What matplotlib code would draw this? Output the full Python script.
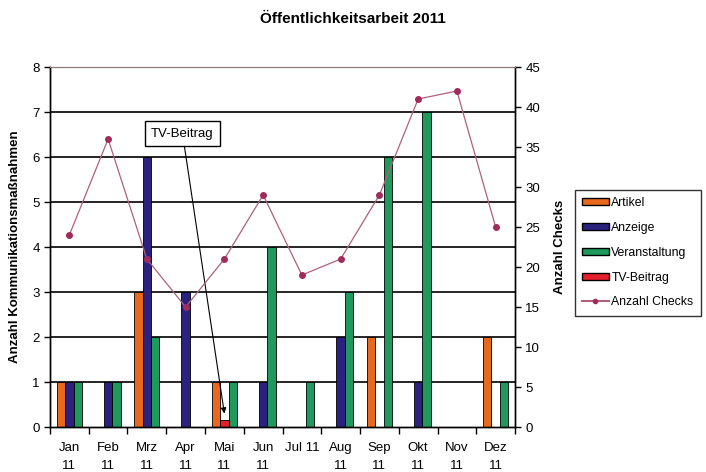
import numpy as np
import matplotlib.pyplot as plt
from matplotlib.patches import Patch
from matplotlib.lines import Line2D

months = ['Jan\n11', 'Feb\n11', 'Mrz\n11', 'Apr\n11', 'Mai\n11', 'Jun\n11',
          'Jul 11', 'Aug\n11', 'Sep\n11', 'Okt\n11', 'Nov\n11', 'Dez\n11']
artikel = [1, 0, 3, 0, 1, 0, 0, 0, 2, 0, 0, 2]
anzeige = [1, 1, 6, 3, 0, 1, 0, 2, 0, 1, 0, 0]
veranstaltung = [1, 1, 2, 0, 1, 4, 1, 3, 6, 7, 0, 1]
tv_beitrag = [0, 0, 0, 0, 0.15, 0, 0, 0, 0, 0, 0, 0]
checks = [24, 36, 21, 15, 21, 29, 19, 21, 29, 41, 42, 25]

c_art = '#E8691E'
c_anz = '#2B2280'
c_ver = '#1F9A5C'
c_tv = '#E5202C'
c_line = '#B0607A'

plt.rcParams['font.family'] = ['Liberation Sans', 'DejaVu Sans']

fig = plt.figure(figsize=(7.06, 4.72), dpi=100)
ax = fig.add_axes([0.0708, 0.0953, 0.6587, 0.7627])
ax2 = ax.twinx()

x = np.arange(len(months))
w = 0.215
# gridlines first, behind bars
for g in range(1, 8):
    ax.axhline(g, color='black', lw=1.2, zorder=0)

kw = dict(width=w, edgecolor='black', linewidth=0.6, zorder=2)
ax.bar(x - w, artikel, color=c_art, **kw)
ax.bar(x, anzeige, color=c_anz, **kw)
ax.bar(x + w, veranstaltung, color=c_ver, **kw)
ax.bar(x, tv_beitrag, color=c_tv, **kw)

ax2.plot(x, checks, color=c_line, lw=0.9, marker='o', markersize=4,
         markerfacecolor='#A02C5C', markeredgecolor='#A02C5C')

ax.set_xlim(-0.5, 11.5)
ax.set_ylim(0, 8)
ax2.set_ylim(0, 45)
ax.set_yticks(range(0, 9))
ax2.set_yticks(range(0, 46, 5))
ax.set_xticks(x)
ax.set_xticklabels(months, fontsize=9.5, linespacing=1.6)
ax.set_xticks(np.arange(-0.5, 12, 1), minor=True)
ax.tick_params(axis='x', which='major', length=0, pad=11)
ax.tick_params(axis='x', which='minor', length=5, direction='out', width=1)
ax.tick_params(axis='y', labelsize=9.5, length=4, width=1)
ax2.tick_params(axis='y', labelsize=9.5, length=4, width=1)

for a in (ax, ax2):
    a.spines['top'].set_color('#8C7A70')
    a.spines['top'].set_linewidth(0.8)
    a.spines['left'].set_linewidth(1.0)
    a.spines['right'].set_linewidth(1.0)
    a.spines['bottom'].set_linewidth(1.0)

ax.set_ylabel('Anzahl Kommunikationsmaßnahmen', fontsize=9.5, fontweight='bold', labelpad=8)
ax2.set_ylabel('Anzahl Checks', fontsize=9.5, fontweight='bold', labelpad=10)

fig.suptitle('Öffentlichkeitsarbeit 2011', fontsize=11, fontweight='bold', x=0.5, y=0.975)

ax.annotate('TV-Beitrag', xy=(4, 0.3), xycoords='data',
            xytext=(0.285, 0.815), textcoords='axes fraction',
            ha='center', va='center', fontsize=9.5,
            bbox=dict(boxstyle='square,pad=0.5', fc='white', ec='black', lw=1),
            arrowprops=dict(arrowstyle='-|>', color='black', lw=0.8,
                            shrinkA=0, shrinkB=0, mutation_scale=8),
            zorder=5)

handles = [Patch(facecolor=c_art, edgecolor='black', label='Artikel'),
           Patch(facecolor=c_anz, edgecolor='black', label='Anzeige'),
           Patch(facecolor=c_ver, edgecolor='black', label='Veranstaltung'),
           Patch(facecolor=c_tv, edgecolor='black', label='TV-Beitrag'),
           Line2D([0], [0], color=c_line, marker='o', markersize=3,
                  markerfacecolor='#A02C5C', markeredgecolor='#A02C5C',
                  label='Anzahl Checks')]
fig.legend(handles=handles, loc='upper left', bbox_to_anchor=(0.814, 0.598),
           fontsize=8.8, frameon=True, fancybox=False, edgecolor='black',
           handlelength=2.2, handleheight=0.5, handletextpad=0.2,
           borderpad=0.6, labelspacing=1.05, borderaxespad=0)

fig.savefig('out.png', dpi=100)
